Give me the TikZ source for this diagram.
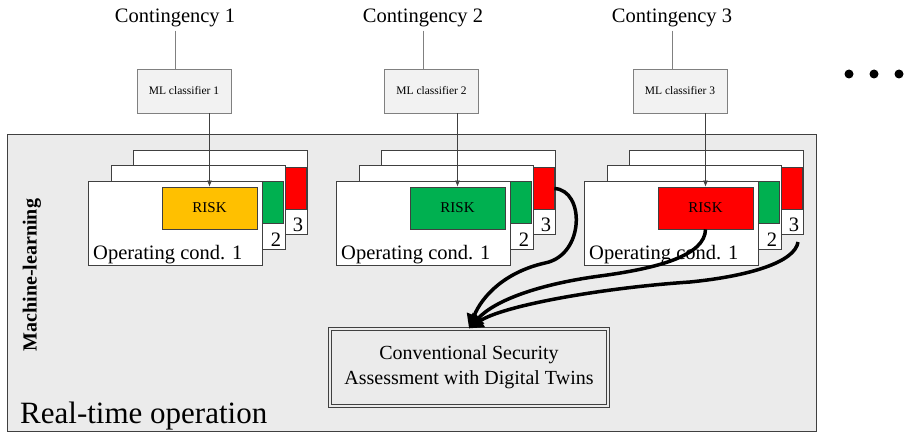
\documentclass[tikz,border=0pt]{standalone}
\usepackage{fontspec}
\setmainfont{Liberation Serif}
\usetikzlibrary{arrows.meta}
\definecolor{bggray}{HTML}{EBEBEB}
\definecolor{clfgray}{HTML}{F2F2F2}
\definecolor{edgegray}{HTML}{404040}
\definecolor{riskorange}{HTML}{FFC000}
\definecolor{riskgreen}{HTML}{00B050}
\definecolor{riskred}{HTML}{FF0000}
\tikzset{
  card/.style={draw=edgegray, fill=white, line width=0.8pt, minimum width=174pt, minimum height=84pt, inner sep=0pt},
  riskbox/.style={draw=edgegray, line width=0.8pt, minimum width=95pt, minimum height=42pt, inner sep=0pt, font=\fontsize{15}{18}\selectfont},
  clfbox/.style={draw=gray, fill=clfgray, line width=0.6pt, minimum width=94pt, minimum height=44pt, inner sep=0pt, font=\fontsize{11.5}{13}\selectfont},
  bigtext/.style={font=\fontsize{20.5}{24}\selectfont, inner sep=3pt},
  casbox/.style={draw=edgegray, line width=0.8pt, double=bggray, double distance=2pt, minimum width=278.4pt, minimum height=77.4pt, inner sep=0pt, align=center, font=\fontsize{20}{25}\selectfont},
  thinline/.style={draw=gray, line width=0.7pt},
  smallarrow/.style={draw=edgegray, line width=0.7pt, -{Latex[length=6pt,width=5pt]}},
  fatarrow/.style={line width=3.5pt, -{Triangle[length=14pt,width=15pt]}}
}
\begin{document}
\begin{tikzpicture}[x=1pt,y=-1pt]
    \useasboundingbox (0,0) rectangle (910,433);
    \draw [draw=edgegray, fill=bggray, line width=0.8pt] (7,134) rectangle (816,431);
    \node [bigtext, anchor=base] (cont1) at (175,23) {Contingency 1};
    \node [bigtext, anchor=base] (cont2) at (423,23) {Contingency 2};
    \node [bigtext, anchor=base] (cont3) at (672,23) {Contingency 3};
    \node [clfbox] (clf1) at (184,91) {ML classifier 1};
    \node [clfbox] (clf2) at (431.5,91) {ML classifier 2};
    \node [clfbox] (clf3) at (680,91) {ML classifier 3};
    \draw [thinline] (cont1.south) -- (cont1.south |- clf1.north);
    \draw [thinline] (cont2.south) -- (cont2.south |- clf2.north);
    \draw [thinline] (cont3.south) -- (cont3.south |- clf3.north);
    \node [card] (c13) at (220.5,192) {};
    \node [riskbox, fill=riskred] (r13) at (258.5,188.5) {};
    \node [bigtext] (n13) at (298,225) {3};
    \node [card] (c12) at (198.5,207) {};
    \node [riskbox, fill=riskgreen] (r12) at (235.5,202.5) {};
    \node [bigtext] (n12) at (276,240) {2};
    \node [card] (c11) at (175.5,223) {};
    \node [riskbox, fill=riskorange] (risk1) at (209.5,208) {RISK};
    \node [bigtext, anchor=base west, inner sep=0pt] (op1) at (93,259.5) {Operating cond. 1};
    \node [card] (c23) at (468.5,192) {};
    \node [riskbox, fill=riskred] (r23) at (506.5,188.5) {};
    \node [bigtext] (n23) at (546,225) {3};
    \node [card] (c22) at (446.5,207) {};
    \node [riskbox, fill=riskgreen] (r22) at (483.5,202.5) {};
    \node [bigtext] (n22) at (524,240) {2};
    \node [card] (c21) at (423.5,223) {};
    \node [riskbox, fill=riskgreen] (risk2) at (457.5,208) {RISK};
    \node [bigtext, anchor=base west, inner sep=0pt] (op2) at (341,259.5) {Operating cond. 1};
    \node [card] (c33) at (716.5,192) {};
    \node [riskbox, fill=riskred] (r33) at (754.5,188.5) {};
    \node [bigtext] (n33) at (794,225) {3};
    \node [card] (c32) at (694.5,207) {};
    \node [riskbox, fill=riskgreen] (r32) at (731.5,202.5) {};
    \node [bigtext] (n32) at (772,240) {2};
    \node [card] (c31) at (671.5,223) {};
    \node [riskbox, fill=riskred] (risk3) at (705.5,208) {RISK};
    \node [bigtext, anchor=base west, inner sep=0pt] (op3) at (589,259.5) {Operating cond. 1};
    \draw [smallarrow] (clf1.south -| risk1.north) -- (risk1.north);
    \draw [smallarrow] (clf2.south -| risk2.north) -- (risk2.north);
    \draw [smallarrow] (clf3.south -| risk3.north) -- (risk3.north);
    \node [rotate=90, font=\bfseries\fontsize{20}{24}\selectfont] (ml) at (32,275) {Machine-learning};
    \node [font=\fontsize{31}{36}\selectfont, anchor=base west, inner sep=0pt] (rto) at (20,423) {Real-time operation};
    \node [casbox] (cas) at (469,367.5) {Conventional Security\\Assessment with Digital Twins};
    \coordinate (s3) at (798,242);
    \draw [fatarrow] (r23.east) .. controls (585,190) and (585,255) .. (545,263) .. controls (505,272) and (482,296) .. (cas.north);
    \draw [fatarrow] (risk3.south) .. controls (705,255) and (660,268) .. (600,276) .. controls (540,284) and (495,300) .. (cas.north);
    \draw [fatarrow] (s3) .. controls (795,262) and (750,276) .. (690,282) .. controls (600,288) and (502,306) .. (cas.north);
    \fill (849,74) circle [radius=4.5pt];
    \fill (874,74) circle [radius=4.5pt];
    \fill (899,74) circle [radius=4.5pt];
\end{tikzpicture}
\end{document}
